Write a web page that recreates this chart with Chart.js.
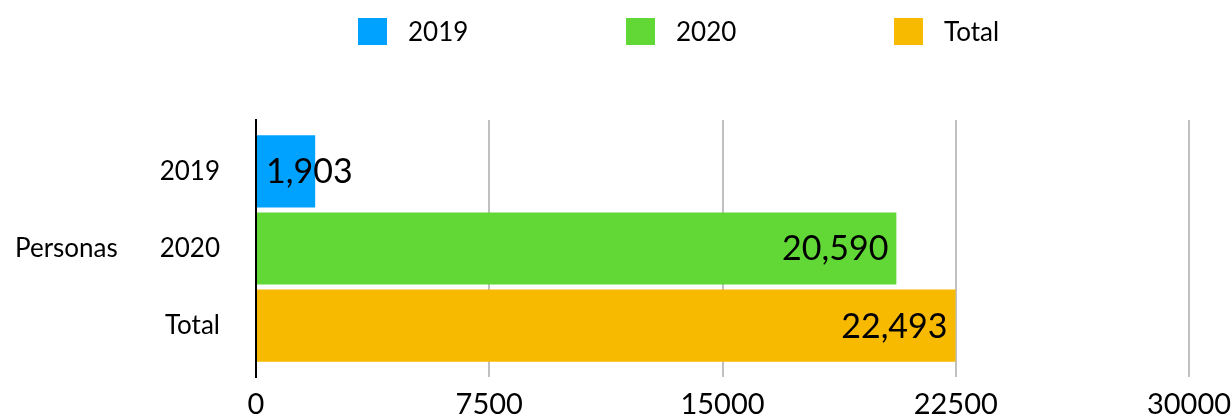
<!DOCTYPE html>
<html>
<head>
<meta charset="utf-8">
<script src="https://cdn.jsdelivr.net/npm/chart.js@4"></script>
<style>
  body { margin: 0; background: #fff; }
  #wrap { width: 1231px; height: 416px; }
</style>
</head>
<body>
<div id="wrap"><canvas id="personasChart"></canvas></div>
<script>
const categories = ['Personas'];
const seriesNames = ['2019', '2020', 'Total'];
const values2019 = [1903];
const values2020 = [20590];
const valuesTotal = [22493];
const xTicks = [0, 7500, 15000, 22500, 30000];
const colors = ['#00A2FF', '#61D836', '#F8BA00'];

const FONT = 'Lato';

// value labels, sub labels next to each bar and the legend on top
const barLabels = {
  id: 'barLabels',
  afterDatasetsDraw(chart) {
    const ctx = chart.ctx;
    ctx.save();
    ctx.fillStyle = '#000';
    ctx.textBaseline = 'middle';
    chart.data.datasets.forEach(function (ds, i) {
      let meta = chart.getDatasetMeta(i);
      meta.data.forEach(function (bar, j) {
        let text = ds.data[j].toLocaleString('en-US');
        ctx.font = '34px ' + FONT;
        let w = ctx.measureText(text).width;
        let x = bar.x - 8 - w;
        if (x < bar.base + 9) x = bar.base + 9;
        ctx.textAlign = 'left';
        ctx.fillText(text, x, bar.y + 1);

        ctx.font = '26px ' + FONT;
        ctx.textAlign = 'right';
        ctx.fillText(ds.label, chart.chartArea.left - 36, bar.y);
      });
    });

    // legend
    let x = 358;
    chart.data.datasets.forEach(function (ds) {
      ctx.fillStyle = ds.backgroundColor;
      ctx.fillRect(x, 18, 29, 27);
      ctx.fillStyle = '#000';
      ctx.font = '26px ' + FONT;
      ctx.textAlign = 'left';
      ctx.fillText(ds.label, x + 50, 33);
      x += 268;
    });
    ctx.restore();
  }
};

let ctx = document.getElementById('personasChart');
let personasChart = new Chart(ctx, {
  type: 'bar',
  data: {
    labels: categories,
    datasets: [{
      label: seriesNames[0],
      data: values2019,
      backgroundColor: colors[0]
    },
    {
      label: seriesNames[1],
      data: values2020,
      backgroundColor: colors[1]
    },
    {
      label: seriesNames[2],
      data: valuesTotal,
      backgroundColor: colors[2]
    }]
  },
  options: {
    indexAxis: 'y',
    responsive: true,
    maintainAspectRatio: false,
    animation: false,
    categoryPercentage: 0.9,
    barPercentage: 0.935,
    layout: {
      padding: { top: 120, left: 15, right: 0, bottom: 0 }
    },
    plugins: {
      legend: { display: false },
      tooltip: { enabled: false }
    },
    scales: {
      x: {
        min: xTicks[0],
        max: xTicks[xTicks.length - 1],
        afterBuildTicks: function (scale) {
          scale.ticks = xTicks.map(v => ({ value: v }));
        },
        afterFit: function (scale) {
          scale.height = 39;
          scale.paddingRight = 42;
          scale.paddingLeft = 0;
        },
        ticks: {
          color: '#000',
          font: { family: FONT, size: 29, lineHeight: 1 },
          padding: 13,
          maxRotation: 0,
          callback: v => String(v)
        },
        grid: {
          color: '#c0c0c0',
          lineWidth: 2,
          drawTicks: false
        },
        border: { display: false }
      },
      y: {
        afterFit: function (scale) {
          scale.width = 241;
        },
        ticks: {
          color: '#000',
          crossAlign: 'far',
          font: { family: FONT, size: 26 }
        },
        grid: { display: false },
        border: { display: true, color: '#000', width: 2 }
      }
    }
  },
  plugins: [barLabels]
});
</script>
</body>
</html>
